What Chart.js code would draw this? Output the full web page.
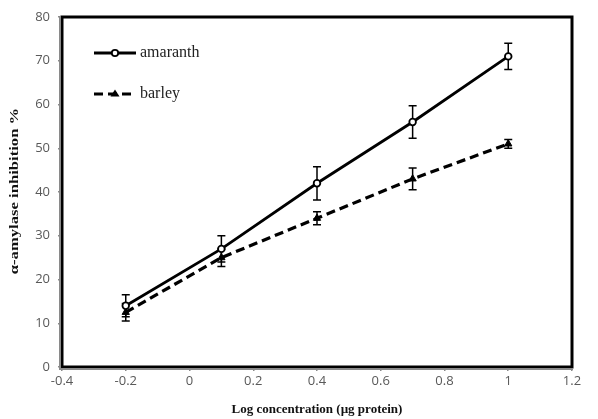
<!DOCTYPE html>
<html>
<head>
<meta charset="utf-8">
<script src="https://cdn.jsdelivr.net/npm/chart.js@4.4.1/dist/chart.umd.min.js"></script>
<style>
html,body{margin:0;padding:0;background:#fff;}
#wrap{width:598px;height:419px;position:relative;}
</style>
</head>
<body>
<div id="wrap"><canvas id="c" width="598" height="419"></canvas></div>
<script>
const logConc = [-0.2, 0.1, 0.4, 0.7, 1.0];
const amaranth = [14, 27, 42, 56, 71];
const amaranthErr = [2.5, 3, 3.8, 3.7, 3];
const barley = [12.5, 25, 34, 43, 51];
const barleyErr = [2, 2, 1.5, 2.5, 1];
const seriesNames = ['amaranth', 'barley'];
const xTitle = 'Log concentration (\u00b5g protein)';
const yTitle = '\u03b1-amylase inhibition %';

const toPts = (ys) => logConc.map((x, i) => ({x: x, y: ys[i]}));

const errorBars = {
  id: 'errorBars',
  beforeDatasetsDraw(chart) {
    const ctx = chart.ctx, xs = chart.scales.x, ys = chart.scales.y;
    chart.data.datasets.forEach(ds => {
      if (!ds.errors) return;
      ctx.save();
      ctx.strokeStyle = '#000';
      ctx.lineWidth = 1.5;
      ds.data.forEach((p, i) => {
        const e = ds.errors[i];
        const px = xs.getPixelForValue(p.x);
        const t = ys.getPixelForValue(p.y + e), b = ys.getPixelForValue(p.y - e);
        ctx.beginPath();
        ctx.moveTo(px, t); ctx.lineTo(px, b);
        ctx.moveTo(px - 4, t); ctx.lineTo(px + 4, t);
        ctx.moveTo(px - 4, b); ctx.lineTo(px + 4, b);
        ctx.stroke();
      });
      ctx.restore();
    });
  },
  afterDraw(chart) {
    const ctx = chart.ctx, a = chart.chartArea;
    ctx.save();
    // frame
    ctx.strokeStyle = '#000';
    ctx.lineWidth = 3;
    ctx.strokeRect(a.left, a.top, a.right - a.left, a.bottom - a.top);
    ctx.strokeStyle = '#8a8a8a';
    ctx.lineWidth = 2;
    ctx.beginPath();
    ctx.moveTo(a.left - 2, a.top - 1); ctx.lineTo(a.left - 2, a.bottom + 2);
    ctx.lineTo(a.right + 1, a.bottom + 2);
    ctx.stroke();
    // y title (condensed serif, as in the reference)
    ctx.save();
    ctx.translate(15, (a.top + a.bottom) / 2 - 1);
    ctx.rotate(-Math.PI / 2);
    ctx.scale(1.28, 1);
    ctx.font = 'bold 13px "Liberation Serif"';
    ctx.fillStyle = '#111';
    ctx.textAlign = 'center';
    ctx.textBaseline = 'middle';
    ctx.fillText(yTitle, 0, 0);
    ctx.restore();
    // legend
    const items = [{y: 53}, {y: 94}];
    chart.data.datasets.forEach((ds, i) => {
      const y = items[i].y;
      const x0 = 94, x1 = 136;
      ctx.strokeStyle = '#000';
      ctx.lineWidth = ds.borderWidth;
      ctx.setLineDash(ds.borderDash || []);
      ctx.beginPath(); ctx.moveTo(x0, y); ctx.lineTo(x1, y); ctx.stroke();
      ctx.setLineDash([]);
      const cx = (x0 + x1) / 2;
      if (ds.pointStyle === 'circle') {
        ctx.fillStyle = '#fff'; ctx.lineWidth = 1.8;
        ctx.beginPath(); ctx.arc(cx, y, 3.2, 0, Math.PI * 2); ctx.fill(); ctx.stroke();
      } else {
        ctx.fillStyle = '#000';
        ctx.beginPath(); ctx.moveTo(cx, y - 4.5); ctx.lineTo(cx + 4.5, y + 2.5); ctx.lineTo(cx - 4.5, y + 2.5); ctx.closePath(); ctx.fill();
      }
      ctx.fillStyle = '#222';
      ctx.font = '16px "Liberation Serif"';
      ctx.textBaseline = 'middle';
      ctx.textAlign = 'left';
      ctx.fillText(ds.label, 140, y);
    });
    ctx.restore();
  }
};

const tickFmt = v => String(Number(Number(v).toFixed(1)));

new Chart(document.getElementById('c'), {
  type: 'line',
  data: {
    datasets: [
      {
        label: seriesNames[0], data: toPts(amaranth), errors: amaranthErr,
        borderColor: '#000', borderWidth: 2.8, pointStyle: 'circle', pointRadius: 3.3,
        pointBackgroundColor: '#fff', pointBorderColor: '#000', pointBorderWidth: 1.8,
        tension: 0, fill: false
      },
      {
        label: seriesNames[1], data: toPts(barley), errors: barleyErr,
        borderColor: '#000', borderWidth: 3.2, borderDash: [9, 5], pointStyle: 'triangle', pointRadius: 4.2,
        pointBackgroundColor: '#000', pointBorderColor: '#000', pointBorderWidth: 1,
        tension: 0, fill: false
      }
    ]
  },
  options: {
    responsive: false,
    animation: false,
    devicePixelRatio: 1,
    layout: {padding: {left: 0, right: 26, top: 17, bottom: 0}},
    plugins: {legend: {display: false}, tooltip: {enabled: false}},
    scales: {
      x: {
        type: 'linear', min: -0.4, max: 1.2,
        afterFit(s) { s.height = 52; },
        ticks: {stepSize: 0.2, callback: tickFmt, color: '#595959', font: {family: '"Open Sans", "Liberation Sans"', size: 13}, padding: 2, maxRotation: 0},
        grid: {display: true, drawOnChartArea: false, drawTicks: true, tickLength: 4, color: '#8a8a8a', lineWidth: 1.5},
        border: {display: false},
        title: {display: true, text: xTitle, color: '#111', font: {family: '"Liberation Serif"', size: 13, weight: 'bold'}, padding: {top: 2, bottom: 2}}
      },
      y: {
        type: 'linear', min: 0, max: 80,
        afterFit(s) { s.width = 62; },
        ticks: {stepSize: 10, color: '#595959', font: {family: '"Open Sans", "Liberation Sans"', size: 13}, padding: 8},
        grid: {display: true, drawOnChartArea: false, drawTicks: true, tickLength: 4, color: '#8a8a8a', lineWidth: 1.5},
        border: {display: false},
        title: {display: false}
      }
    }
  },
  plugins: [errorBars]
});
</script>
</body>
</html>
